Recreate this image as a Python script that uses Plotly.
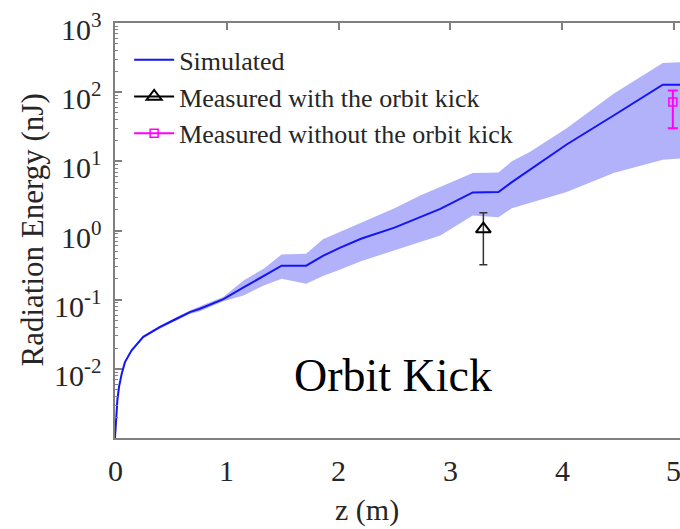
import math
import plotly.graph_objects as go

# ---- data ----
z_sim = [0.0, 0.009, 0.021, 0.036, 0.06, 0.089, 0.149, 0.253, 0.40, 0.55, 0.67, 0.76, 0.97, 1.15,
         1.33, 1.49, 1.71, 1.86, 2.01, 2.2, 2.5, 2.73, 2.91, 3.2, 3.43, 3.55, 3.71, 4.04, 4.46, 4.9, 5.06]
e_sim = [0.001, 0.002, 0.0035, 0.0055, 0.0085, 0.0125, 0.0185, 0.029, 0.040, 0.053, 0.066, 0.074,
         0.102, 0.150, 0.222, 0.31, 0.31, 0.43, 0.56, 0.76, 1.10, 1.55, 2.05, 3.55, 3.6, 5.0, 7.6,
         17.5, 46, 128, 128]
e_upper = [0.001, 0.002, 0.0035, 0.0055, 0.0085, 0.0127, 0.019, 0.030, 0.042, 0.056, 0.070, 0.080,
           0.110, 0.19, 0.28, 0.45, 0.46, 0.75, 0.95, 1.3, 2.1, 3.2, 4.3, 6.8, 6.9, 10, 13.6, 30,
           95, 265, 270]
e_lower = [0.001, 0.002, 0.0035, 0.0055, 0.0085, 0.0123, 0.018, 0.028, 0.038, 0.050, 0.062, 0.068,
           0.095, 0.115, 0.16, 0.20, 0.17, 0.22, 0.27, 0.36, 0.51, 0.68, 0.85, 1.65, 1.56, 2.1, 2.5,
           3.6, 6.8, 10.5, 11]

z_kick = [3.295]
e_kick = [1.05]
e_kick_hi = [1.8]
e_kick_lo = [0.32]

z_nokick = [4.99]
e_nokick = [72]
e_nokick_hi = [106]
e_nokick_lo = [30]

ytick_vals = [1e-2, 1e-1, 1, 10, 100, 1000]
ytick_text = ["10<sup>-2</sup>", "10<sup>-1</sup>", "10<sup>0</sup>", "10<sup>1</sup>",
              "10<sup>2</sup>", "10<sup>3</sup>"]
xtick_vals = [0, 1, 2, 3, 4, 5]
xtick_text = ["0", "1", "2", "3", "4", "5"]

FONT = '"Liberation Serif", "Times New Roman", Times, "DejaVu Serif", serif'
TXT = "#262626"
AX = "#808080"
XMAX = 5.054

fig = go.Figure()

# shaded band
fig.add_trace(go.Scatter(
    x=z_sim + z_sim[::-1], y=e_upper + e_lower[::-1],
    fill="toself", fillcolor="rgb(178,178,250)", line=dict(width=0),
    mode="lines", showlegend=False, hoverinfo="skip"))

fig.add_trace(go.Scatter(
    x=z_sim, y=e_sim, mode="lines", name="Simulated",
    line=dict(color="#1414f5", width=2)))

fig.add_trace(go.Scatter(
    x=z_kick, y=e_kick, mode="lines+markers", name="Measured with the orbit kick",
    line=dict(color="black", width=2),
    marker=dict(symbol="triangle-up-open", size=13, color="black", line=dict(width=2)),
    error_y=dict(type="data", symmetric=False,
                 array=[h - v for h, v in zip(e_kick_hi, e_kick)],
                 arrayminus=[v - l for l, v in zip(e_kick_lo, e_kick)],
                 color="#333333", thickness=1.5, width=4)))

fig.add_trace(go.Scatter(
    x=z_nokick, y=e_nokick, mode="lines+markers", name="Measured without the orbit kick",
    line=dict(color="#ff00ff", width=2),
    marker=dict(symbol="square-open", size=8, color="#ff00ff", line=dict(width=1.5)),
    error_y=dict(type="data", symmetric=False,
                 array=[h - v for h, v in zip(e_nokick_hi, e_nokick)],
                 arrayminus=[v - l for l, v in zip(e_nokick_lo, e_nokick)],
                 color="#ff00ff", thickness=2, width=5)))

# dummy trace for top axis
fig.add_trace(go.Scatter(x=[0], y=[1], xaxis="x2", mode="markers",
                         marker=dict(opacity=0), showlegend=False, hoverinfo="skip"))

fig.add_annotation(text="Orbit Kick", x=0.492, y=0.084, xref="paper", yref="paper",
                   showarrow=False, font=dict(family=FONT, size=46, color="black"))

# x tick labels drawn as annotations so the cut-off "5" at the right edge is kept
for v, t in zip(xtick_vals, xtick_text):
    fig.add_annotation(text=t, x=v, y=0, xref="x", yref="paper", yanchor="top",
                       yshift=-14, showarrow=False,
                       font=dict(family=FONT, size=30, color=TXT))

# y tick labels as annotations (slightly below their ticks, as in the reference)
for v, t in zip(ytick_vals, ytick_text):
    fig.add_annotation(text=t, x=0, y=math.log10(v), xref="paper", yref="y",
                       xanchor="right", yanchor="middle", xshift=-11, yshift=-4,
                       showarrow=False, font=dict(family=FONT, size=30, color=TXT))

fig.add_annotation(text="z (m)", x=(367 - 115) / 565, y=0, xref="paper", yref="paper",
                   yanchor="top", yshift=-53, showarrow=False,
                   font=dict(family=FONT, size=30, color=TXT))

fig.add_annotation(text="Radiation Energy (nJ)", x=0, y=0.5, xref="paper", yref="paper",
                   xanchor="center", yanchor="middle", xshift=-83, textangle=-90,
                   showarrow=False, font=dict(family=FONT, size=31, color=TXT))

fig.update_layout(
    width=680, height=529,
    margin=dict(l=115, r=0, t=23, b=91),
    paper_bgcolor="white", plot_bgcolor="white",
    font=dict(family=FONT, color=TXT),
    showlegend=True,
    legend=dict(x=0.025, y=0.968, xanchor="left", yanchor="top",
                bgcolor="rgba(0,0,0,0)", font=dict(family=FONT, size=26, color=TXT),
                itemwidth=40, tracegroupgap=0),
    xaxis=dict(range=[0, XMAX], tickvals=xtick_vals, showticklabels=False,
               showgrid=False, zeroline=False,
               showline=True, linecolor=AX, linewidth=2, ticks=""),
    xaxis2=dict(range=[0, XMAX], overlaying="x", side="top", tickvals=xtick_vals,
                showticklabels=False, showgrid=False, zeroline=False,
                showline=True, linecolor=AX, linewidth=2, ticks="inside", ticklen=7,
                tickcolor=AX, tickwidth=1.5),
    yaxis=dict(type="log", range=[-3, 3], tickvals=ytick_vals, showticklabels=False,
               showgrid=False, zeroline=False, showline=True, linecolor=AX, linewidth=2,
               ticks="inside", ticklen=7, tickcolor=AX, tickwidth=1.5,
               minor=dict(ticks="inside", ticklen=3, tickcolor=AX, tickwidth=1, dtick="D1",
                          showgrid=False)),
)

fig.write_html("out.html")
